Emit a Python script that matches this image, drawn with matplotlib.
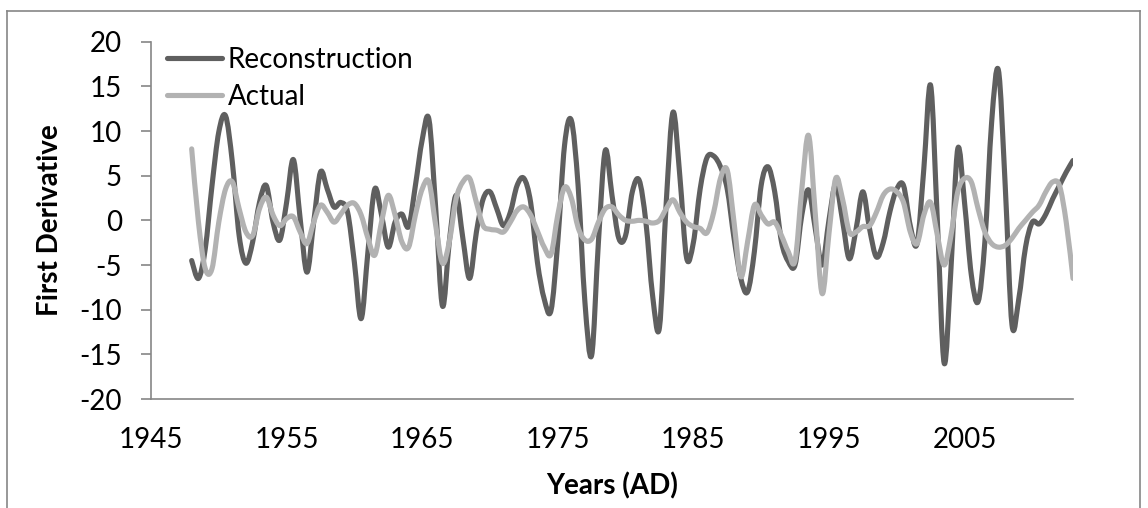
import numpy as np
import matplotlib
matplotlib.use("Agg")
import matplotlib.pyplot as plt
from matplotlib.path import Path
from matplotlib.patches import PathPatch
from matplotlib.lines import Line2D

plt.rcParams["font.family"] = ["Lato", "DejaVu Sans"]
plt.rcParams["axes.unicode_minus"] = False

# half-year steps from 1948 to 2013
years = np.arange(1948.0, 2013.01, 0.5)

reconstruction = [
    -4.5, -6.5, -3.2, 3.9, 9.9, 11.7, 6.5, -1.7, -4.8, -2.4,      # 1948-1952.5
    2.0, 3.9, -0.2, -2.2, 2.0, 6.8, 0.2, -5.8, -0.2, 5.4,         # 1953-1957.5
    3.5, 1.5, 2.0, 0.9, -4.7, -11.0, -3.5, 3.5, 0.6, -3.0,        # 1958-1962.5
    -0.2, 0.7, -0.7, 3.9, 9.0, 11.3, 1.3, -9.6, -2.4, 2.8,        # 1963-1967.5
    -2.0, -6.5, -1.3, 2.4, 3.2, 1.3, -0.6, 0.9, 3.9, 4.7,         # 1968-1972.5
    2.0, -4.7, -8.8, -10.1, -2.4, 8.4, 11.2, 3.9, -9.1, -15.1,    # 1973-1977.5
    -2.4, 7.8, 2.8, -2.0, -1.7, 3.2, 4.5, -0.2, -8.5, -12.0,      # 1978-1982.5
    2.0, 12.1, 5.0, -4.2, -2.5, 3.5, 7.0, 7.2, 6.0, 3.5,          # 1983-1987.5
    -2.0, -6.5, -8.0, -3.5, 3.9, 6.0, 3.2, -2.4, -4.6, -5.0,      # 1988-1992.5
    0.6, 3.4, -1.0, -5.0, 0.0, 4.0, 0.0, -4.3, -1.0, 3.2,         # 1993-1997.5
    -1.0, -4.1, -2.5, 1.0, 3.5, 3.9, -0.6, -2.6, 5.8, 15.1,       # 1998-2002.5
    -0.2, -16.0, -5.4, 8.0, 2.0, -6.1, -9.1, -2.4, 11.0, 16.8,    # 2003-2007.5
    3.9, -11.7, -8.8, -3.0, -0.2, -0.4, 0.7, 2.4, 3.9, 5.4,       # 2008-2012.5
    6.7,                                                          # 2013
]

actual = [
    8.0, -0.2, -5.4, -5.4, -0.2, 3.5, 4.3, 1.3, -1.3, -1.7,
    1.3, 2.6, 0.6, -0.6, 0.2, 0.4, -1.3, -2.6, -0.2, 1.7,
    0.9, -0.2, 0.7, 1.7, 1.9, 0.6, -2.0, -3.9, -0.2, 2.8,
    0.6, -2.4, -3.0, 0.6, 3.5, 4.3, -0.6, -4.8, -2.4, 2.4,
    4.3, 4.7, 2.0, -0.6, -1.0, -1.1, -1.3, -0.2, 1.1, 1.5,
    0.6, -1.2, -3.0, -3.8, 0.6, 3.7, 2.5, -0.8, -2.2, -2.1,
    -0.2, 1.3, 1.5, 0.6, 0.0, -0.1, 0.0, -0.1, -0.3, 0.0,
    1.3, 2.3, 0.9, -0.2, -0.7, -0.9, -1.4, 0.9, 4.7, 5.6,
    -0.2, -6.3, -2.4, 1.7, 0.6, -0.4, -0.2, -1.7, -3.5, -4.5,
    3.5, 9.5, 0.6, -8.2, -1.5, 4.7, 2.4, -1.3, -1.3, -0.7,
    -0.6, 0.9, 2.8, 3.5, 3.2, 2.0, -1.3, -2.6, 0.6, 2.0,
    -1.7, -5.0, -1.7, 3.2, 4.7, 4.3, 1.3, -1.3, -2.6, -3.0,
    -2.8, -2.0, -0.9, 0.0, 0.9, 1.7, 3.2, 4.3, 3.9, -0.2,
    -6.5,
]

series_names = ["Reconstruction", "Actual"]
series_colors = ["#5f5f5f", "#b2b2b2"]
x_ticks = [1945, 1955, 1965, 1975, 1985, 1995, 2005]
y_ticks = [-20, -15, -10, -5, 0, 5, 10, 15, 20]


def smooth_path(x, y):
    # excel-style smoothed line: bezier segments, control points from neighbours
    x = np.asarray(x, float)
    y = np.asarray(y, float)
    px = np.concatenate([[x[0]], x, [x[-1]]])
    py = np.concatenate([[y[0]], y, [y[-1]]])
    verts = [(x[0], y[0])]
    codes = [Path.MOVETO]
    for i in range(len(x) - 1):
        c1 = (x[i] + (px[i + 2] - px[i]) / 6, y[i] + (py[i + 2] - py[i]) / 6)
        c2 = (x[i + 1] - (px[i + 3] - px[i + 1]) / 6, y[i + 1] - (py[i + 3] - py[i + 1]) / 6)
        verts += [c1, c2, (x[i + 1], y[i + 1])]
        codes += [Path.CURVE4] * 3
    return Path(verts, codes)


fig = plt.figure(figsize=(11.48, 5.08), dpi=100)
ax = fig.add_axes([151 / 1148, 1 - 399 / 508, 922 / 1148, 357.3 / 508])

lw = 3.7
for vals, color in zip([reconstruction, actual], series_colors):
    patch = PathPatch(smooth_path(years, vals), facecolor="none", edgecolor=color,
                      lw=lw, capstyle="round", joinstyle="round")
    ax.add_patch(patch)

ax.set_xlim(1945, 2013)
ax.set_ylim(-20, 20)
ax.set_xticks(x_ticks)
ax.set_yticks(y_ticks)

spine_color = "#868686"
for side in ["top", "right"]:
    ax.spines[side].set_visible(False)
for side in ["left", "bottom"]:
    ax.spines[side].set_color(spine_color)
    ax.spines[side].set_linewidth(1.2)

fs = 20
ax.tick_params(axis="y", direction="out", length=7, width=1.2, color=spine_color,
               labelsize=fs, pad=14)
ax.tick_params(axis="x", length=0, labelsize=fs, pad=20)

ax.set_xlabel("Years (AD)", fontsize=fs, fontweight="bold", labelpad=14)
ax.set_ylabel("First Derivative", fontsize=fs, fontweight="bold", labelpad=12)

handles = [Line2D([], [], color=c, lw=lw, solid_capstyle="round") for c in series_colors]
ax.legend(handles, series_names, loc="upper left", bbox_to_anchor=(0.017, 0.985),
          frameon=False, fontsize=fs, handlelength=2.0, handletextpad=0.2,
          labelspacing=0.38, borderaxespad=0, borderpad=0)

# chart area border
border = dict(color="#868686", lw=1.2, transform=fig.transFigure)
fig.add_artist(Line2D([7 / 1148, 7 / 1148], [0, 1 - 11 / 508], **border))
fig.add_artist(Line2D([7 / 1148, 1140 / 1148], [1 - 11 / 508, 1 - 11 / 508], **border))
fig.add_artist(Line2D([1140 / 1148, 1140 / 1148], [0, 1 - 11 / 508], **border))

fig.savefig("out.png", dpi=100)
